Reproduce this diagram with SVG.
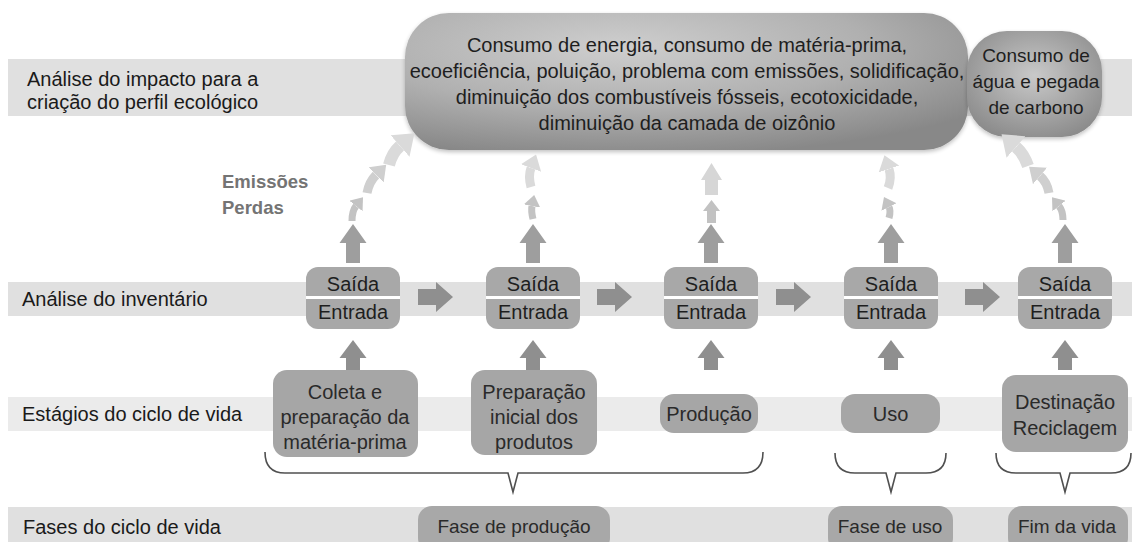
<svg xmlns="http://www.w3.org/2000/svg" width="1132" height="542" viewBox="0 0 1132 542">
<defs>
<style>
text{font-family:"Liberation Sans",Arial,sans-serif;font-size:20px;fill:#1e1e1e}
.lbl{fill:#1a1a1a}
.c{text-anchor:middle}
.box{fill:#a8a8a8}
.st{fill:#a6a6a6}
.stt{fill:#2a2a2a}
.ph{font-size:19px}
.band{fill:#e0e0e0}
.band3{fill:#ebebeb}
.up{fill:#9e9e9e}
.dn{fill:#8f8f8f}
.em{font-weight:bold;fill:#747474;font-size:18.5px}
.brace{fill:none;stroke:#505050;stroke-width:1.6}
.ea{fill:none}
.e1{stroke:#c3c3c3}
.e2{stroke:#cfcfcf}
.e3{stroke:#dadada}
</style>
<radialGradient id="gBig" cx="0.38" cy="0.25" r="0.8">
<stop offset="0" stop-color="#cecece"/>
<stop offset="0.55" stop-color="#b0b0b0"/>
<stop offset="1" stop-color="#888888"/>
</radialGradient>
<radialGradient id="gSmall" cx="0.5" cy="0.42" r="0.62">
<stop offset="0" stop-color="#c9c9c9"/>
<stop offset="1" stop-color="#8c8c8c"/>
</radialGradient>
<filter id="sh" x="-10%" y="-10%" width="120%" height="130%">
<feGaussianBlur in="SourceAlpha" stdDeviation="2"/>
<feOffset dy="1.5" result="b"/>
<feComponentTransfer><feFuncA type="linear" slope="0.25"/></feComponentTransfer>
<feMerge><feMergeNode/><feMergeNode in="SourceGraphic"/></feMerge>
</filter>
<marker id="h1" viewBox="0 0 16 24" refX="0" refY="12" markerWidth="1.6" markerHeight="2.4" orient="auto" markerUnits="strokeWidth"><polygon points="0,0 16,12 0,24" fill="#c3c3c3"/></marker>
<marker id="h2" viewBox="0 0 16 24" refX="0" refY="12" markerWidth="1.6" markerHeight="2.4" orient="auto" markerUnits="strokeWidth"><polygon points="0,0 16,12 0,24" fill="#cfcfcf"/></marker>
<marker id="h3" viewBox="0 0 16 24" refX="0" refY="12" markerWidth="1.6" markerHeight="2.4" orient="auto" markerUnits="strokeWidth"><polygon points="0,0 16,12 0,24" fill="#dadada"/></marker>
</defs>

<rect width="1132" height="542" fill="#ffffff"/>

<g id="rows">
<rect class="band" x="8" y="59" width="1124" height="57"/>
<rect class="band" x="8" y="282" width="1124" height="34"/>
<rect class="band3" x="8" y="397" width="1124" height="34"/>
<rect class="band" x="8" y="507" width="1124" height="35"/>
<text class="lbl" x="27" y="86">Análise do impacto para a</text>
<text class="lbl" x="27" y="109">criação do perfil ecológico</text>
<text class="lbl" x="22" y="306">Análise do inventário</text>
<text class="lbl" x="22" y="421">Estágios do ciclo de vida</text>
<text class="lbl" x="23" y="534">Fases do ciclo de vida</text>
</g>

<g id="impact-main">
<rect x="405" y="13" width="563" height="137" rx="44" fill="url(#gBig)" filter="url(#sh)"/>
<text class="c" x="687" y="52">Consumo de energia, consumo de matéria-prima,</text>
<text class="c" x="687" y="78">ecoeficiência, poluição, problema com emissões, solidificação,</text>
<text class="c" x="687" y="104">diminuição dos combustíveis fósseis, ecotoxicidade,</text>
<text class="c" x="687" y="130">diminuição da camada de oizônio</text>
</g>

<g id="impact-water">
<rect x="967" y="31" width="135" height="106" rx="40" fill="url(#gSmall)" filter="url(#sh)"/>
<text class="c" x="1036" y="62" style="font-size:19px">Consumo de</text>
<text class="c" x="1036" y="88" style="font-size:19px">água e pegada</text>
<text class="c" x="1036" y="114" style="font-size:19px">de carbono</text>
</g>

<g id="emissions-label">
<text class="em" x="222" y="188">Emissões</text>
<text class="em" x="222" y="214">Perdas</text>
</g>

<g id="inv1">
<rect class="box" x="306" y="267" width="94" height="62" rx="12"/>
<rect x="306" y="296" width="94" height="3" fill="#ffffff"/>
<text class="c" x="353" y="291">Saída</text>
<text class="c" x="353" y="319">Entrada</text>
</g>
<g id="inv2">
<rect class="box" x="486" y="267" width="94" height="62" rx="12"/>
<rect x="486" y="296" width="94" height="3" fill="#ffffff"/>
<text class="c" x="533" y="291">Saída</text>
<text class="c" x="533" y="319">Entrada</text>
</g>
<g id="inv3">
<rect class="box" x="664" y="267" width="94" height="62" rx="12"/>
<rect x="664" y="296" width="94" height="3" fill="#ffffff"/>
<text class="c" x="711" y="291">Saída</text>
<text class="c" x="711" y="319">Entrada</text>
</g>
<g id="inv4">
<rect class="box" x="844" y="267" width="94" height="62" rx="12"/>
<rect x="844" y="296" width="94" height="3" fill="#ffffff"/>
<text class="c" x="891" y="291">Saída</text>
<text class="c" x="891" y="319">Entrada</text>
</g>
<g id="inv5">
<rect class="box" x="1018" y="267" width="94" height="62" rx="12"/>
<rect x="1018" y="296" width="94" height="3" fill="#ffffff"/>
<text class="c" x="1065" y="291">Saída</text>
<text class="c" x="1065" y="319">Entrada</text>
</g>

<g id="stage1">
<rect class="st" x="273" y="370" width="145" height="87" rx="14"/>
<text class="c stt" x="345" y="399">Coleta e</text>
<text class="c stt" x="345" y="424">preparação da</text>
<text class="c stt" x="345" y="449">matéria-prima</text>
</g>
<g id="stage2">
<rect class="st" x="471" y="370" width="126" height="85" rx="14"/>
<text class="c stt" x="534" y="399">Preparação</text>
<text class="c stt" x="534" y="424">inicial dos</text>
<text class="c stt" x="534" y="449">produtos</text>
</g>
<g id="stage3">
<rect class="st" x="660" y="394" width="98" height="39" rx="14"/>
<text class="c stt" x="709" y="421">Produção</text>
</g>
<g id="stage4">
<rect class="st" x="841" y="394" width="99" height="39" rx="14"/>
<text class="c stt" x="890.5" y="421">Uso</text>
</g>
<g id="stage5">
<rect class="st" x="1002" y="375" width="126" height="77" rx="14"/>
<text class="c stt" x="1065" y="409">Destinação</text>
<text class="c stt" x="1065" y="435">Reciclagem</text>
</g>

<g id="phase-production">
<rect class="box" x="418" y="506" width="192" height="46" rx="14"/>
<text class="c stt ph" x="514" y="533">Fase de produção</text>
</g>
<g id="phase-use">
<rect class="box" x="828" y="506" width="125" height="46" rx="14"/>
<text class="c stt ph" x="890" y="533">Fase de uso</text>
</g>
<g id="phase-end">
<rect class="box" x="1008" y="506" width="120" height="46" rx="14"/>
<text class="c stt ph" x="1067" y="533">Fim da vida</text>
</g>

<g id="connectors">
<path class="dn" d="M418,289 H436 V282 L453,297 L436,312 V305 H418 Z"/>
<path class="dn" d="M597,289 H615 V282 L632,297 L615,312 V305 H597 Z"/>
<path class="dn" d="M776,289 H794 V282 L811,297 L794,312 V305 H776 Z"/>
<path class="dn" d="M965,289 H983 V282 L1000,297 L983,312 V305 H965 Z"/>
<path class="dn" d="M339.5,358 L353,340 L366.5,358 H360 V370 H346 V358 Z"/>
<path class="dn" d="M519.5,358 L533,340 L546.5,358 H540 V370 H526 V358 Z"/>
<path class="dn" d="M697.5,358 L711,340 L724.5,358 H718 V370 H704 V358 Z"/>
<path class="dn" d="M877.5,358 L891,340 L904.5,358 H898 V370 H884 V358 Z"/>
<path class="dn" d="M1051.5,358 L1065,340 L1078.5,358 H1072 V370 H1058 V358 Z"/>
<path class="up" d="M339.5,243 L353,224 L366.5,243 H360 V263 H346 V243 Z"/>
<path class="up" d="M519.5,243 L533,224 L546.5,243 H540 V263 H526 V243 Z"/>
<path class="up" d="M697.5,243 L711,224 L724.5,243 H718 V263 H704 V243 Z"/>
<path class="up" d="M877.5,243 L891,224 L904.5,243 H898 V263 H884 V243 Z"/>
<path class="up" d="M1051.5,243 L1065,224 L1078.5,243 H1072 V263 H1058 V243 Z"/>
<path class="ea e1" stroke-width="7" marker-end="url(#h1)" d="M352,221 Q352,211 356,206"/>
<path class="ea e2" stroke-width="9" marker-end="url(#h2)" d="M367,193 Q369,182 376,175"/>
<path class="ea e3" stroke-width="12" marker-end="url(#h3)" d="M389,165 Q392,153 400,146"/>
<path class="ea e1" stroke-width="7" marker-end="url(#h1)" d="M533,219 Q531,211 532,206"/>
<path class="ea e3" stroke-width="9" marker-end="url(#h3)" d="M531,187 Q528,176 531,168"/>
<path fill="#c2c2c2" d="M703,211 L711.5,200 L720,211 H716 V223 H707 V211 Z"/>
<path fill="#d6d6d6" d="M701,180 L711.5,163 L722,180 H718 V195 H705 V180 Z"/>
<path class="ea e1" stroke-width="7" marker-end="url(#h1)" d="M889,218 Q891,211 889,207"/>
<path class="ea e3" stroke-width="9" marker-end="url(#h3)" d="M888,188 Q892,178 889,169"/>
<path class="ea e1" stroke-width="7" marker-end="url(#h1)" d="M1063,220 Q1063,211 1059,206"/>
<path class="ea e2" stroke-width="9" marker-end="url(#h2)" d="M1049,193 Q1047,182 1040,176"/>
<path class="ea e3" stroke-width="12" marker-end="url(#h3)" d="M1028,166 Q1024,154 1016,147"/>
<path class="brace" d="M265,452 Q265,473 285,473 H508 L513,492 L518,473 H743 Q763,473 763,452"/>
<path class="brace" d="M835,453 Q835,473 855,473 H886 L891,492 L896,473 H926 Q946,473 946,453"/>
<path class="brace" d="M996,453 Q996,473 1016,473 H1060 L1065,492 L1070,473 H1111 Q1131,473 1131,453"/>
</g>
</svg>
